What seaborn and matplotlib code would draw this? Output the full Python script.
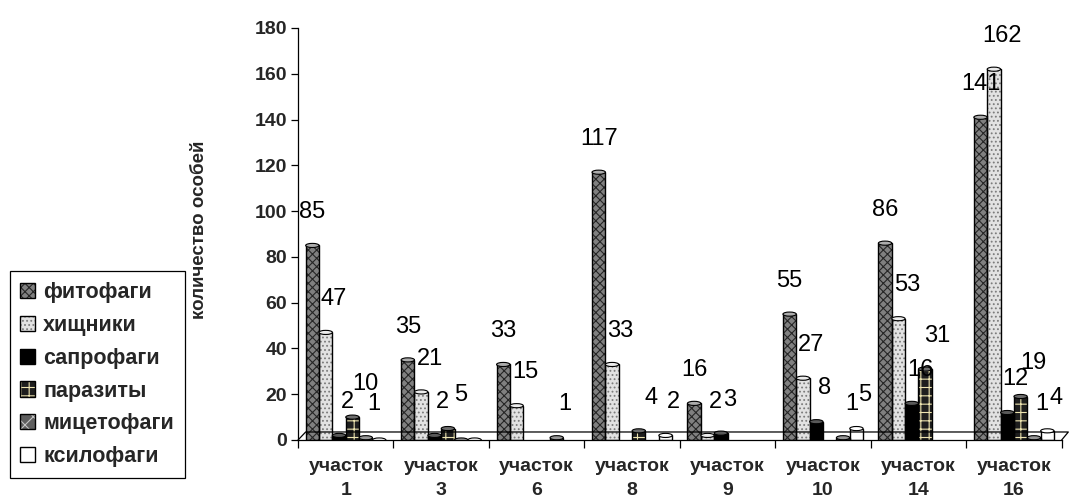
import numpy as np
import pandas as pd
import matplotlib
matplotlib.use("Agg")
import matplotlib.pyplot as plt
from matplotlib.patches import Rectangle, Ellipse, Patch
from matplotlib.colors import to_rgb
import seaborn as sns

# Sites (x categories) and feeding groups (series)
sites = ["участок\n1", "участок\n3", "участок\n6", "участок\n8",
         "участок\n9", "участок\n10", "участок\n14", "участок\n16"]
groups = ["фитофаги", "хищники", "сапрофаги", "паразиты", "мицетофаги", "ксилофаги"]

nan = np.nan
phytophages = [85, 35, 33, 117, 16, 55, 86, 141]
predators = [47, 21, 15, 33, 2, 27, 53, 162]
saprophages = [2, 2, nan, nan, 3, 8, 16, 12]
parasites = [10, 5, nan, 4, nan, nan, 31, 19]
mycetophages = [1, 0, 1, nan, nan, 1, nan, 1]
xylophages = [0, 0, nan, 2, nan, 5, nan, 4]

y_ticks = [0, 20, 40, 60, 80, 100, 120, 140, 160, 180]

series = [phytophages, predators, saprophages, parasites, mycetophages, xylophages]
rows = []
for g, vals in zip(groups, series):
    for s, v in zip(sites, vals):
        if not np.isnan(v):
            rows.append({"site": s, "group": g, "value": v})
df = pd.DataFrame(rows)

# Fill, hatch and hatch colour per group
face = {"фитофаги": "#808080", "хищники": "#e2e2e2", "сапрофаги": "#000000",
        "паразиты": "#1e1e1e", "мицетофаги": "#5e5e5e", "ксилофаги": "#ffffff"}
hatch = {"фитофаги": "xxxx", "хищники": "....", "сапрофаги": "",
         "паразиты": "++", "мицетофаги": "xx", "ксилофаги": ""}
hatch_col = {"фитофаги": "#262626", "хищники": "#7c7c7c", "сапрофаги": "#000000",
             "паразиты": "#eee5b0", "мицетофаги": "#c4c4c4", "ксилофаги": "#ffffff"}

sns.set_style("white")
plt.rcParams["font.family"] = ["Liberation Sans", "DejaVu Sans"]
plt.rcParams["hatch.linewidth"] = 0.8

fig = plt.figure(figsize=(10.74, 5.0), dpi=100)
ax = fig.add_axes([0.2775, 0.12, 0.711, 0.824])

sns.barplot(data=df, x="site", y="value", hue="group", order=sites,
            hue_order=groups, palette=face, width=0.84, errorbar=None,
            legend=False, ax=ax, saturation=1)

for g, cont in zip(groups, ax.containers):
    for bar in cont:
        bar.set_hatch(hatch[g])
        bar.set_edgecolor(hatch_col[g])
        bar.set_linewidth(0)
        x0, w, h = bar.get_x(), bar.get_width(), bar.get_height()
        ax.add_patch(Rectangle((x0, 0), w, h, fill=False, edgecolor="black",
                               linewidth=1.0, zorder=bar.get_zorder() + 0.1))
        cap = tuple(0.35 + 0.65 * c for c in to_rgb(face[g]))
        ax.add_patch(Ellipse((x0 + w / 2, h), w, 1.8, facecolor=cap,
                             edgecolor="black", linewidth=0.8,
                             zorder=bar.get_zorder() + 0.2))

# Value labels above the bars
label_dx = [0, 6, 6, 9, 6, 6]
for i, (g, cont) in enumerate(zip(groups, ax.containers)):
    for bar in cont:
        h = bar.get_height()
        if h <= 0:
            continue
        ax.annotate(f"{h:g}", (bar.get_x() + bar.get_width() / 2, h),
                    xytext=(label_dx[i], 16), textcoords="offset points",
                    ha="center", va="bottom", fontsize=17, color="black",
                    zorder=10)

# Chart floor outline
ax.plot([-0.5, -0.42, 7.57, 7.5], [0, 3.5, 3.5, 0], color="black",
        linewidth=0.9, clip_on=False, zorder=1)

ax.set_xlim(-0.5, 7.5)
ax.set_ylim(0, 180)
ax.set_yticks(y_ticks)
ax.set_yticklabels([str(t) for t in y_ticks], fontsize=14, fontweight="bold")
ax.set_xticks(range(len(sites)))
ax.set_xticklabels(sites, fontsize=14, fontweight="bold", linespacing=1.5)
ax.set_xticks(np.arange(-0.5, len(sites), 1.0), minor=True)
ax.tick_params(axis="x", which="major", length=0, pad=13)
ax.tick_params(axis="x", which="minor", length=6, width=0.9, direction="out",
               color="black", bottom=True)
ax.tick_params(axis="y", length=5, width=0.9, direction="out", color="black",
               left=True, pad=3)
ax.set_xlabel("")
ax.set_ylabel("количество особей", fontsize=13.5, fontweight="bold")
ax.yaxis.set_label_coords(-0.118, 0.51)

for side in ["top", "right"]:
    ax.spines[side].set_visible(False)
for side in ["left", "bottom"]:
    ax.spines[side].set_color("black")
    ax.spines[side].set_linewidth(0.9)

handles = []
for g in groups:
    handles.append((Patch(facecolor=face[g], hatch=hatch[g], edgecolor=hatch_col[g], linewidth=0),
                    Patch(fill=False, edgecolor="black", linewidth=1.0)))
leg = fig.legend(handles, groups, loc="lower left", bbox_to_anchor=(0.009, 0.044),
                 frameon=True, fancybox=False, shadow=False, framealpha=1,
                 edgecolor="black", prop={"size": 15.5, "weight": "bold"},
                 handlelength=0.7, handleheight=0.7, handletextpad=0.35,
                 labelspacing=0.55, borderpad=0.5, borderaxespad=0)
leg.get_frame().set_linewidth(0.9)

fig.savefig("out.png", dpi=100)
